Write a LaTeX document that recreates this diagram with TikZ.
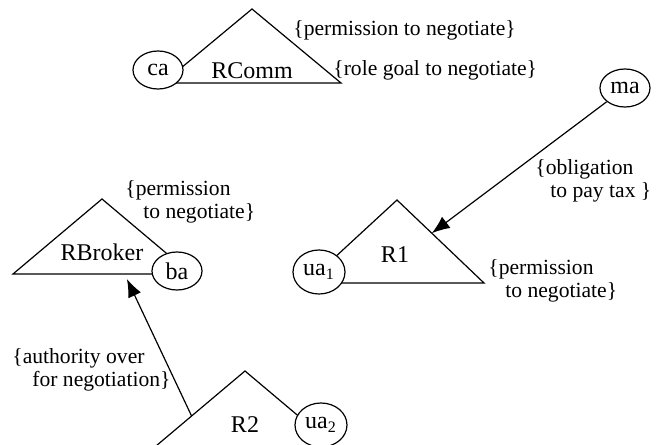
\documentclass[tikz,border=0pt]{standalone}
\usepackage{fontspec}
\setmainfont{Liberation Serif}
\usepackage{tikz}
\usetikzlibrary{calc}
\usetikzlibrary{positioning}
\usetikzlibrary{shapes.geometric}
\usetikzlibrary{arrows.meta}
\tikzset{x=0.5pt, y=-0.5pt}
\tikzstyle{agentnode} = [draw, ellipse, fill=white, line width=0.6pt, inner sep=0pt, minimum width=25pt, minimum height=19pt, font=\fontsize{12}{14}\selectfont]
\tikzstyle{bigagent} = [minimum width=26pt, minimum height=22pt]
\tikzstyle{rolenode} = [inner sep=0pt, font=\fontsize{12}{14}\selectfont]
\tikzstyle{normnode} = [inner sep=0pt, anchor=west, align=left]
\tikzstyle{roleline} = [line width=0.6pt]
\tikzstyle{normarrow} = [line width=0.6pt, -{Latex[length=9pt,width=7pt]}]

\begin{document}
\begin{tikzpicture}[font=\fontsize{10.8}{11.6}\selectfont]
\useasboundingbox (0,0) rectangle (660,445);
\clip (0,0) rectangle (660,445);

% RComm
\coordinate (rcomm_top) at (252,9);
\coordinate (rcomm_left) at ($(rcomm_top)+(-89,74)$);
\coordinate (rcomm_right) at ($(rcomm_top)+(89,74)$);
\draw[roleline] (rcomm_top) -- (rcomm_right) -- (rcomm_left) -- cycle;
\node[rolenode] (rcomm) at ($(rcomm_top)+(0,62)$) {RComm};
\node[agentnode] (ca) at ($(rcomm_top)+(-94,61)$) {ca};
\node[normnode] (rcomm_perm) at ($(rcomm_top)+(41,21)$) {\{permission to negotiate\}};
\node[normnode] (rcomm_goal) at ($(rcomm_top)+(81,61)$) {\{role goal to negotiate\}};

% R1
\coordinate (r1_top) at (397,200);
\coordinate (r1_left) at ($(r1_top)+(-90,83)$);
\coordinate (r1_right) at ($(r1_top)+(87,83)$);
\draw[roleline] (r1_top) -- (r1_right) -- (r1_left) -- cycle;
\node[rolenode] (r1) at ($(r1_top)+(-2,55)$) {R1};
\node[agentnode, bigagent] (ua1) at ($(r1_top)+(-78,72)$) {ua\textsubscript{1}};
\node[normnode] (r1_perm) at ($(r1_top)+(91,81)$) {\{permission\\\hspace*{8.5pt}to negotiate\}};

\node[agentnode] (ma) at (625,88) {ma};
\coordinate (r1_hit) at ($(r1_top)!0.4!(r1_right)$);
\draw[normarrow] (ma) -- (r1_hit);
\node[normnode] (ma_oblig) at ($(ma)+(-90,93)$) {\{obligation\\\hspace*{7.5pt}to pay tax \}};

% RBroker
\coordinate (rbroker_top) at (102,199);
\coordinate (rbroker_left) at ($(rbroker_top)+(-89,75)$);
\coordinate (rbroker_right) at ($(rbroker_top)+(89,75)$);
\draw[roleline] (rbroker_top) -- (rbroker_right) -- (rbroker_left) -- cycle;
\node[rolenode] (rbroker) at ($(rbroker_top)+(0,53)$) {RBroker};
\node[agentnode] (ba) at ($(rbroker_top)+(75,72)$) {ba};
\node[normnode] (rbroker_perm) at ($(rbroker_top)+(23,2.5)$) {\{permission\\\hspace*{9pt}to negotiate\}};

% R2
\coordinate (r2_top) at (245,371);
\coordinate (r2_left) at ($(r2_top)+(-89,75)$);
\coordinate (r2_right) at ($(r2_top)+(89,75)$);
\draw[roleline] (r2_top) -- (r2_right) -- (r2_left) -- cycle;
\node[rolenode] (r2) at ($(r2_top)+(0,54)$) {R2};
\node[agentnode, bigagent] (ua2) at ($(r2_top)+(76,54)$) {ua\textsubscript{2}};

\coordinate (r2_tail) at ($(r2_top)!0.6!(r2_left)$);
\coordinate (rbroker_foot) at ($($(rbroker_left)!0.64!(rbroker_right)$)+(0,5)$);
\draw[normarrow] (r2_tail) -- (rbroker_foot);
\node[normnode] (r2_auth) at (12,370) {\{authority over\\\hspace*{10pt}for negotiation\}};
\end{tikzpicture}
\end{document}
